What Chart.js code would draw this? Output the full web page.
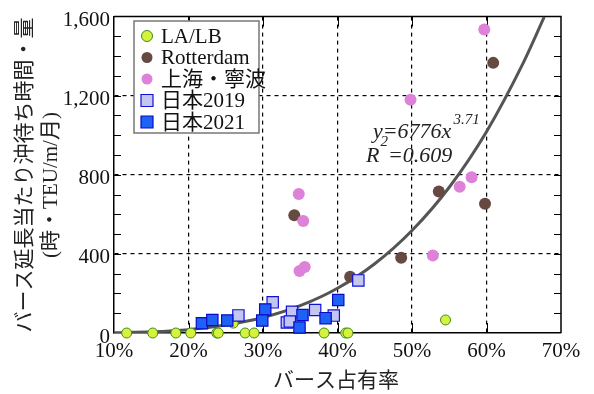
<!DOCTYPE html>
<html>
<head>
<meta charset="utf-8">
<script src="https://cdn.jsdelivr.net/npm/chart.js@4.4.0/dist/chart.umd.min.js"></script>
<style>
  html, body { margin: 0; padding: 0; background: #fff; }
</style>
</head>
<body>
<canvas id="chart" width="594" height="394"></canvas>
<script>
// values (x = berth occupancy, y = waiting time per berth length)
const laLbX = [0.117, 0.152, 0.183, 0.203, 0.238, 0.240, 0.260, 0.276, 0.288, 0.382, 0.411, 0.414, 0.545];
const laLbY = [0, 0, 0, 0, 0, 0, 50, 0, 0, 0, 0, 0, 66];

const rotterdamX = [0.342, 0.417, 0.4855, 0.536, 0.598, 0.609];
const rotterdamY = [596, 285, 381, 715, 654, 1366];

const shanghaiX = [0.597, 0.498, 0.348, 0.354, 0.349, 0.356, 0.528, 0.564, 0.580];
const shanghaiY = [1535, 1179, 703, 566, 314, 334, 392, 740, 788];

const japan2019X = [0.267, 0.313, 0.339, 0.332, 0.336, 0.370, 0.395, 0.428];
const japan2019Y = [89, 155, 107, 53, 58, 116, 88, 266];

const japan2021X = [0.218, 0.232, 0.252, 0.303, 0.299, 0.353, 0.349, 0.384, 0.401];
const japan2021Y = [49, 66, 63, 119, 63, 91, 28, 75, 167];

// fitted curve
const fitX = [0.10, 0.15, 0.20, 0.25, 0.30, 0.35, 0.40, 0.45, 0.50, 0.55, 0.60, 0.65, 0.6775];
const fitY = [1, 6, 17, 40, 78, 138, 226, 350, 518, 737, 1018, 1371, 1598];

const xTicks = [0.1, 0.2, 0.3, 0.4, 0.5, 0.6, 0.7];
const yTicks = [0, 400, 800, 1200, 1600];

const legendLabels = ['LA/LB', 'Rotterdam', '上海・寧波', '日本2019', '日本2021'];
const yTitle = ['バース延長当たり沖待ち時間・量', '(時・TEU/m/月)'];
const xTitle = 'バース占有率';
const fitText = ['y=6776x', '3.71', 'R', '2', '=0.609'];

const FONT = '"Liberation Serif", "Noto Sans CJK JP", serif';

const zip = (xs, ys) => xs.map((x, i) => ({ x: x, y: ys[i] }));

const frameTicks = {
  id: 'frameTicks',
  beforeDatasetsDraw(chart) {
    const { ctx, chartArea: a, scales: { x, y } } = chart;
    ctx.save();
    ctx.strokeStyle = '#000';
    ctx.lineWidth = 1;
    ctx.beginPath();
    // minor + major ticks on left and right, every 100
    for (let v = 100; v < 1600; v += 100) {
      const py = Math.round(y.getPixelForValue(v)) + 0.5;
      ctx.moveTo(a.left, py); ctx.lineTo(a.left + 7, py);
      ctx.moveTo(a.right, py); ctx.lineTo(a.right - 7, py);
    }
    xTicks.slice(1, -1).forEach(v => {
      const px = Math.round(x.getPixelForValue(v)) + 0.5;
      ctx.moveTo(px, a.top); ctx.lineTo(px, a.top + 10);
      ctx.moveTo(px, a.bottom); ctx.lineTo(px, a.bottom - 10);
    });
    ctx.stroke();
    // top and right edges of the frame
    ctx.lineWidth = 1.5;
    ctx.beginPath();
    ctx.moveTo(a.left, a.top); ctx.lineTo(a.right, a.top); ctx.lineTo(a.right, a.bottom);
    ctx.stroke();
    ctx.restore();
  }
};

const overlay = {
  id: 'overlay',
  afterDraw(chart) {
    const { ctx } = chart;
    ctx.save();

    // legend box
    const bx = 134, by = 21, bw = 125, bh = 112;
    ctx.fillStyle = '#fff';
    ctx.fillRect(bx, by, bw, bh);
    ctx.strokeStyle = '#777';
    ctx.lineWidth = 1.5;
    ctx.strokeRect(bx, by, bw, bh);
    ctx.font = '21px ' + FONT;
    ctx.textBaseline = 'middle';
    ctx.textAlign = 'left';
    chart.data.datasets.slice(0, 5).forEach((ds, i) => {
      const cy = 36 + i * 21.5;
      const cx = 147;
      ctx.fillStyle = ds.backgroundColor;
      ctx.strokeStyle = ds.borderColor;
      ctx.lineWidth = ds.borderWidth;
      ctx.beginPath();
      if (ds.pointStyle === 'rect') {
        ctx.rect(cx - 6, cy - 6, 12, 12);
      } else {
        ctx.arc(cx, cy, 5.5, 0, Math.PI * 2);
      }
      ctx.fill();
      if (ds.borderWidth) ctx.stroke();
      ctx.fillStyle = '#111';
      ctx.fillText(legendLabels[i], 161, cy + 1);
    });

    // fit equation
    ctx.fillStyle = '#222';
    ctx.textBaseline = 'alphabetic';
    ctx.font = 'italic 22px ' + FONT;
    ctx.fillText(fitText[0], 373, 138);
    let w = ctx.measureText(fitText[0]).width;
    ctx.font = 'italic 15px ' + FONT;
    ctx.fillText(fitText[1], 373 + w + 2, 124);
    ctx.font = 'italic 22px ' + FONT;
    ctx.fillText(fitText[2], 366, 162);
    w = ctx.measureText(fitText[2]).width;
    ctx.font = 'italic 15px ' + FONT;
    ctx.fillText(fitText[3], 366 + w + 1, 146);
    const w2 = ctx.measureText(fitText[3]).width;
    ctx.font = 'italic 22px ' + FONT;
    ctx.fillText(fitText[4], 366 + w + w2 + 1, 162);

    // axis titles
    ctx.fillStyle = '#222';
    ctx.font = '21px ' + FONT;
    ctx.textAlign = 'center';
    ctx.textBaseline = 'middle';
    ctx.fillText(xTitle, 336, 381);
    ctx.translate(0, 175);
    ctx.rotate(-Math.PI / 2);
    ctx.fillText(yTitle[0], 0, 25);
    ctx.fillText(yTitle[1], -10, 51);
    ctx.restore();
  }
};

const ctx = document.getElementById('chart').getContext('2d');

new Chart(ctx, {
  type: 'scatter',
  data: {
    datasets: [
      {
        label: legendLabels[0],
        data: zip(laLbX, laLbY),
        pointStyle: 'circle',
        pointRadius: 5,
        backgroundColor: '#d6f23c',
        borderColor: '#3c8c1e',
        borderWidth: 1,
        clip: false,
        order: 5
      },
      {
        label: legendLabels[1],
        data: zip(rotterdamX, rotterdamY),
        pointStyle: 'circle',
        pointRadius: 6,
        backgroundColor: '#664a42',
        borderColor: '#664a42',
        borderWidth: 0,
        clip: false,
        order: 4
      },
      {
        label: legendLabels[2],
        data: zip(shanghaiX, shanghaiY),
        pointStyle: 'circle',
        pointRadius: 6,
        backgroundColor: '#dd82d8',
        borderColor: '#dd82d8',
        borderWidth: 0,
        clip: false,
        order: 3
      },
      {
        label: legendLabels[3],
        data: zip(japan2019X, japan2019Y),
        pointStyle: 'rect',
        pointRadius: 8,
        backgroundColor: '#c4c6f2',
        borderColor: '#1010d8',
        borderWidth: 1.2,
        clip: false,
        order: 2
      },
      {
        label: legendLabels[4],
        data: zip(japan2021X, japan2021Y),
        pointStyle: 'rect',
        pointRadius: 8,
        backgroundColor: '#1e62f5',
        borderColor: '#0a0ac8',
        borderWidth: 1.2,
        clip: false,
        order: 1
      },
      {
        label: 'fit',
        type: 'line',
        data: zip(fitX, fitY),
        showLine: true,
        pointRadius: 0,
        borderColor: '#555',
        borderWidth: 3,
        cubicInterpolationMode: 'monotone',
        fill: false,
        order: 10
      }
    ]
  },
  options: {
    responsive: false,
    animation: false,
    layout: { padding: { top: 11, right: 33, left: 0, bottom: 0 } },
    plugins: {
      legend: { display: false },
      tooltip: { enabled: false }
    },
    scales: {
      x: {
        type: 'linear',
        min: 0.1,
        max: 0.7,
        afterFit: s => { s.height = 61; },
        afterBuildTicks: s => { s.ticks = xTicks.map(v => ({ value: v })); },
        ticks: {
          color: '#111',
          padding: 6,
          maxRotation: 0,
          font: { family: FONT, size: 21 },
          callback: v => Math.round(v * 100) + '%'
        },
        grid: {
          drawTicks: false,
          lineWidth: 1.2,
          color: c => (c.index === 0 || c.index === xTicks.length - 1) ? 'rgba(0,0,0,0)' : '#000'
        },
        border: { display: true, color: '#000', width: 1.5, dash: [4, 4] }
      },
      y: {
        min: 0,
        max: 1600,
        afterFit: s => { s.width = 114; },
        afterBuildTicks: s => { s.ticks = yTicks.map(v => ({ value: v })); },
        ticks: {
          color: '#111',
          padding: 4,
          labelOffset: 4,
          font: { family: FONT, size: 21 },
          callback: v => v.toLocaleString('en-US')
        },
        grid: {
          drawTicks: false,
          lineWidth: 1.2,
          color: c => (c.index === 0 || c.index === yTicks.length - 1) ? 'rgba(0,0,0,0)' : '#000'
        },
        border: { display: true, color: '#000', width: 1.5, dash: [4, 4] }
      }
    }
  },
  plugins: [frameTicks, overlay]
});
</script>
</body>
</html>
